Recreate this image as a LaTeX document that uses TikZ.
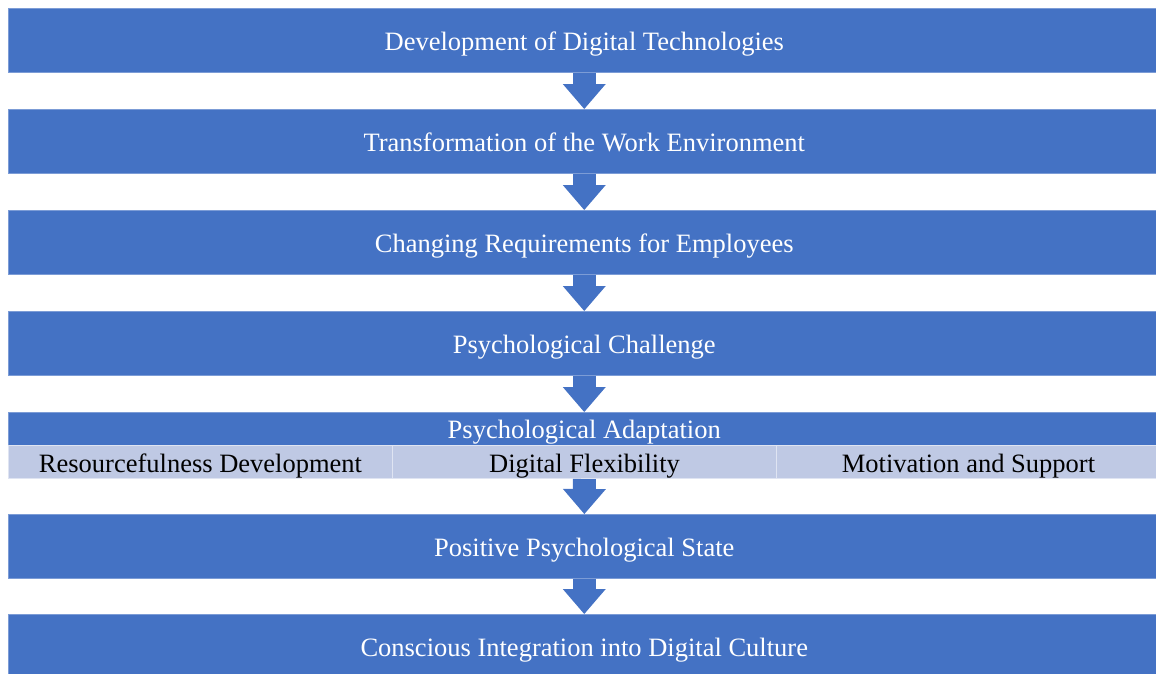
\documentclass[tikz,border=0pt]{standalone}
\usepackage{fontspec}
\setmainfont{Liberation Serif}
\usetikzlibrary{arrows.meta}
\definecolor{boxblue}{RGB}{68,114,196}
\definecolor{cellblue}{RGB}{191,201,228}

\begin{document}
\begin{tikzpicture}[x=1pt,y=1pt]
\useasboundingbox (0,0) rectangle (1156,-673);
\tikzset{bluebox/.style ={fill=boxblue, draw=boxblue!70!white, line width=0.5pt, text=white, minimum width=1152pt, minimum height=64pt, anchor=north west, inner sep=0, text height=25pt, text depth=5pt, font=\fontsize{26.5}{30}\selectfont}}
\tikzset{subcell/.style ={bluebox, fill=cellblue, draw=cellblue!50!white, line width=1pt, text=black, minimum width=384pt, minimum height=33pt}}
\tikzset{flowarrow/.style ={draw=boxblue, line width=23pt, -{Triangle[width=43pt,length=25pt,line width=0pt]}}}
\node[bluebox] (dev) at (8,-8) {Development of Digital Technologies};
\node[bluebox] (trans) at (8,-109) {Transformation of the Work Environment};
\node[bluebox] (req) at (8,-210) {Changing Requirements for Employees};
\node[bluebox] (chall) at (8,-311) {Psychological Challenge};
\node[bluebox, minimum height=33pt] (adapt) at (8,-412) {Psychological Adaptation};
\node[subcell] (res) at (8,-445) {Resourcefulness Development};
\node[subcell] (flex) at (392,-445) {Digital Flexibility};
\node[subcell] (motiv) at (776,-445) {Motivation and Support};
\node[bluebox] (pos) at (8,-514) {Positive Psychological State};
\node[bluebox] (integ) at (8,-614) {Conscious Integration into Digital Culture};
\draw[flowarrow] (dev) -- (trans);
\draw[flowarrow] (trans) -- (req);
\draw[flowarrow] (req) -- (chall);
\draw[flowarrow] (chall) -- (adapt);
\draw[flowarrow] (flex) -- (pos);
\draw[flowarrow] (pos) -- (integ);
\end{tikzpicture}
\end{document}
